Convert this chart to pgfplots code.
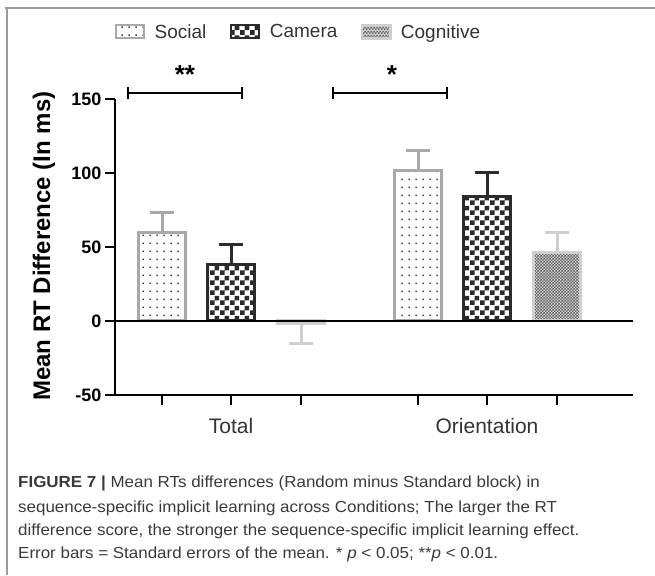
\documentclass[border=0pt]{standalone}
\usepackage{fontspec}
\setmainfont{Liberation Sans}
\newfontfamily\capfont{Liberation Sans}[FakeStretch=1.06]
\usepackage{pgfplots}
\pgfplotsset{compat=1.18}
\usetikzlibrary{patterns}
\definecolor{framec}{HTML}{9A9A9A}
\definecolor{socialc}{HTML}{A8A8A8}
\definecolor{dotc}{HTML}{444444}
\definecolor{camerac}{HTML}{2B2B2B}
\definecolor{cogc}{HTML}{CFCFCF}
\definecolor{cogbg}{HTML}{CFCFCF}
\definecolor{cogpat}{HTML}{666666}
\definecolor{txtc}{HTML}{333333}
\definecolor{capc}{HTML}{3A3A3A}
\pgfdeclarepatternformonly{sdots}{\pgfqpoint{0pt}{0pt}}{\pgfqpoint{7pt}{8pt}}{\pgfqpoint{7pt}{8pt}}{%
  \pgfpathrectangle{\pgfqpoint{2.7pt}{3.2pt}}{\pgfqpoint{1.6pt}{1.6pt}}\pgfusepath{fill}}
\pgfdeclarepatternformonly{bigcheck}{\pgfqpoint{0pt}{0pt}}{\pgfqpoint{10pt}{10pt}}{\pgfqpoint{10pt}{10pt}}{%
  \pgfpathrectangle{\pgfqpoint{0pt}{0pt}}{\pgfqpoint{5pt}{5pt}}%
  \pgfpathrectangle{\pgfqpoint{5pt}{5pt}}{\pgfqpoint{5pt}{5pt}}\pgfusepath{fill}}
\pgfdeclarepatternformonly{smallcheck}{\pgfqpoint{0pt}{0pt}}{\pgfqpoint{3.4pt}{3.4pt}}{\pgfqpoint{3.4pt}{3.4pt}}{%
  \pgfpathrectangle{\pgfqpoint{0pt}{0pt}}{\pgfqpoint{1.7pt}{1.7pt}}%
  \pgfpathrectangle{\pgfqpoint{1.7pt}{1.7pt}}{\pgfqpoint{1.7pt}{1.7pt}}\pgfusepath{fill}}
\pgfplotsset{
  mybox/.style={legend image code/.code={\draw[##1, line width=1.5pt] (0pt,-6pt) rectangle (28pt,7pt);}},
}
\pgfplotstableread{
x y e
162 60 13
418 102 13
}\social
\pgfplotstableread{
x y e
231 38.5 13.5
487 84 16
}\camera
\pgfplotstableread{
x y e
557 46.5 13.5
}\cogA
\pgfplotstableread{
x y e
301 -2 13.5
}\cogB
\begin{document}
\begin{tikzpicture}[x=1pt,y=1pt]
\path[use as bounding box] (0,0) rectangle (655,575);
\draw[line width=1.5pt, framec] (5,567) -- (655,567);
\draw[line width=1.5pt, framec] (7,567.75) -- (7,0);
\begin{axis}[
  at={(115pt,180pt)}, anchor=south west,
  scale only axis, width=518pt, height=296pt,
  xmin=115, xmax=633, ymin=-50, ymax=150,
  clip=false,
  axis lines*=left,
  axis line style={-, line width=2.5pt, black},
  ytick={-50,0,50,100,150},
  xtick={162,231,301,418,487,557},
  xticklabels={,Total,,,Orientation,},
  tick align=outside, major tick length=10pt,
  tick style={line width=2.5pt, black},
  /pgf/number format/assume math mode=true,
  yticklabel style={font=\bfseries\fontsize{18}{20}\selectfont, text=black},
  xticklabel style={font=\fontsize{21}{24}\selectfont, text=txtc, yshift=-10pt},
  ylabel={Mean RT Difference (In ms)},
  ylabel style={font=\bfseries\fontsize{24}{26}\selectfont, at={(axis description cs:-0.137,0.503)}, anchor=center},
  legend style={draw=none, fill=none, legend columns=3, at={(axis description cs:-0.006,1.226)}, anchor=west,
    font=\fontsize{19}{23}\selectfont, text=txtc,
    /tikz/every odd column/.append style={column sep=8pt},
    /tikz/every even column/.append style={column sep=22pt}},
  legend cell align=left,
]
\addplot[ybar, bar width=47, bar shift=0pt, mybox, draw=socialc, line width=3pt, pattern=sdots, pattern color=dotc,
  error bars/.cd, y dir=plus, y explicit, error bar style={line width=3pt, socialc},
  error mark options={rotate=90, mark size=12pt, line width=3pt, socialc}]
  table[x=x, y=y, y error=e] {\social};
\addlegendentry{Social}
\addplot[ybar, bar width=47, bar shift=0pt, mybox, draw=camerac, line width=3pt, pattern=bigcheck, pattern color=camerac,
  error bars/.cd, y dir=plus, y explicit, error bar style={line width=3pt, camerac},
  error mark options={rotate=90, mark size=12pt, line width=3pt, camerac}]
  table[x=x, y=y, y error=e] {\camera};
\addlegendentry{Camera}
\addplot[ybar, bar width=47, bar shift=0pt, mybox, draw=cogc, line width=3pt, preaction={fill=cogbg}, pattern=smallcheck, pattern color=cogpat,
  error bars/.cd, y dir=plus, y explicit, error bar style={line width=3pt, cogc},
  error mark options={rotate=90, mark size=12pt, line width=3pt, cogc}]
  table[x=x, y=y, y error=e] {\cogA};
\addlegendentry{Cognitive}
\addplot[forget plot, ybar, bar width=47, bar shift=0pt, draw=cogc, line width=3pt, fill=cogbg,
  error bars/.cd, y dir=minus, y explicit, error bar style={line width=3pt, cogc},
  error mark options={rotate=90, mark size=12pt, line width=3pt, cogc}]
  table[x=x, y=y, y error=e] {\cogB};
\draw[line width=2.5pt, black] (axis cs:115,0) -- (axis cs:633,0);
\end{axis}
% significance brackets
\node[anchor=base, inner sep=0pt, font=\bfseries\fontsize{26}{26}\selectfont] at (185,491) {**};
\draw[line width=1.5pt] (128,482) -- (242,482);
\draw[line width=1.5pt] (128,476) -- (128,488);
\draw[line width=1.5pt] (242,476) -- (242,488);
\node[anchor=base, inner sep=0pt, font=\bfseries\fontsize{26}{26}\selectfont] at (392,491) {*};
\draw[line width=1.5pt] (333,482) -- (447,482);
\draw[line width=1.5pt] (333,476) -- (333,488);
\draw[line width=1.5pt] (447,476) -- (447,488);
% caption
\begin{scope}[every node/.style={anchor=base west, inner sep=0pt, font=\capfont\fontsize{16}{18}\selectfont, text=capc}]
\node at (18,87) {{\bfseries FIGURE 7 |} Mean RTs differences (Random minus Standard block) in};
\node at (18,63) {sequence-specific implicit learning across Conditions; The larger the RT};
\node at (18,40) {difference score, the stronger the sequence-specific implicit learning effect.};
\node at (18,17) {Error bars = Standard errors of the mean. * \textit{p} < 0.05; **\textit{p} < 0.01.};
\end{scope}
\end{tikzpicture}
\end{document}
